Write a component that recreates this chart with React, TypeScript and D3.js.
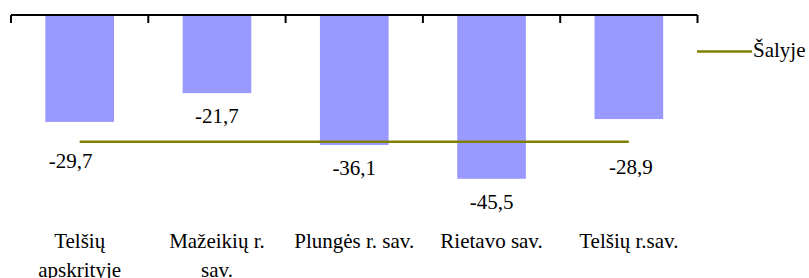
import React from 'react';
import * as d3 from 'd3';

// categories (split into label lines), values, national average
const categories = ['Telšių apskrityje', 'Mažeikių r. sav.', 'Plungės r. sav.', 'Rietavo sav.', 'Telšių r.sav.'];
const categoryLines = [['Telšių', 'apskrityje'], ['Mažeikių r.', 'sav.'], ['Plungės r. sav.'], ['Rietavo sav.'], ['Telšių r.sav.']];
const values = [-29.7, -21.7, -36.1, -45.5, -28.9];
const countryValues = [-35.2, -35.2, -35.2, -35.2, -35.2];
const legendLabel = 'Šalyje';

const fmt = (v: number) => v.toFixed(1).replace('.', ',');

export default function App() {
  const width = 809;
  const height = 278;
  const font = "'Liberation Serif', 'Times New Roman', serif";

  /* Scale */
  const xScale = d3.scaleBand<string>()
    .domain(categories)
    .range([11, 697.5])
    .paddingInner(0.5)
    .paddingOuter(0.25);

  const yScale = d3.scaleLinear()
    .domain([-50, 0])
    .range([195, 15]);

  const step = xScale.step();
  const x0 = xScale.range()[0];
  const ticks = d3.range(categories.length + 1).map(i => x0 + i * step);
  const center = (c: string) => (xScale(c) as number) + xScale.bandwidth() / 2;

  // labels moved off the country line
  const nudge = [[-9, 16], [0, 0], [0, 0], [0, 0], [2, 25]];

  const line = d3.line<number>()
    .x((d, i) => center(categories[i]))
    .y(d => yScale(d));

  return (
    <svg width={width} height={height} style={{ position: 'absolute', left: 0, top: 0, fontFamily: font }}>
      <rect width={width} height={height} fill="#fff" />

      {/* bars */}
      {categories.map((c, i) => (
        <rect key={c}
          x={xScale(c)}
          y={yScale(0)}
          width={xScale.bandwidth()}
          height={yScale(values[i]) - yScale(0)}
          fill="#9999FF" />
      ))}

      {/* country line */}
      <path d={line(countryValues) || ''} fill="none" stroke="#808000" strokeWidth={2.5} />

      {/* value labels */}
      {categories.map((c, i) => (
        <text key={c}
          x={center(c) + nudge[i][0]}
          y={yScale(values[i]) + 30 + nudge[i][1]}
          textAnchor="middle"
          fontSize={21}
          style={{ fontFamily: font }}
          fill="#000">{fmt(values[i])}</text>
      ))}

      {/* axis at zero */}
      <line x1={ticks[0]} x2={ticks[ticks.length - 1]} y1={yScale(0)} y2={yScale(0)} stroke="#000" strokeWidth={2} />
      {ticks.map(t => (
        <line key={t} x1={t} x2={t} y1={yScale(0)} y2={yScale(0) + 8} stroke="#000" strokeWidth={2} />
      ))}

      {/* category labels */}
      {categories.map((c, i) => (
        <text key={c} x={center(c)} y={248} textAnchor="middle" fontSize={21} fill="#000" style={{ fontFamily: font }}>
          {categoryLines[i].map((l, j) => (
            <tspan key={j} x={center(c)} dy={j === 0 ? 0 : 29}>{l}</tspan>
          ))}
        </text>
      ))}

      {/* legend */}
      <line x1={697} x2={752} y1={51.5} y2={51.5} stroke="#808000" strokeWidth={2.5} />
      <text x={753} y={57} fontSize={21} fill="#000" style={{ fontFamily: font }}>{legendLabel}</text>
    </svg>
  );
}
